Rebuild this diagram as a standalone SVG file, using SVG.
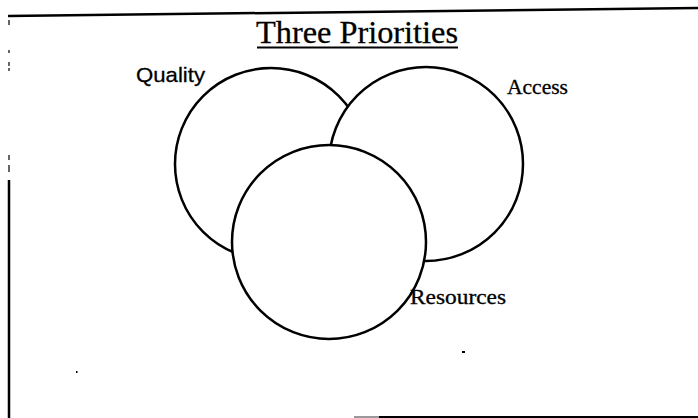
<svg xmlns="http://www.w3.org/2000/svg" width="698" height="418" viewBox="0 0 698 418">
<style>
.c{fill:#fff;stroke:#000;stroke-width:2.5}
.b{stroke:#000;fill:none}
.s{font-family:"Liberation Serif","Times New Roman",serif;fill:#000;stroke:#000;stroke-width:0.3}
.a{font-family:"Liberation Sans",Arial,sans-serif;fill:#000;stroke:#000;stroke-width:0.3}
</style>
<rect width="698" height="418" fill="#fff"/>
<g id="frame">
<path class="b" d="M8 16 L698 8" stroke-width="2.5"/>
<path class="b" d="M9 180 L9 418" stroke-width="2.5"/>
<path class="b" d="M9 20 V25 M9 50 V53 M9 62 V66 M9 68 V71 M9 155 V160 M9 165 V172" stroke-width="1.2"/>
<path d="M354 417 H379" stroke="#999" stroke-width="2"/>
<path class="b" d="M379 417 H698" stroke-width="2.2"/>
<rect x="462" y="351" width="3" height="2" fill="#000"/>
<rect x="76" y="371" width="1.5" height="2" fill="#000"/>
</g>
<g id="title">
<text class="s" x="357" y="43" font-size="32" text-anchor="middle" textLength="202" lengthAdjust="spacingAndGlyphs">Three Priorities</text>
<path class="b" d="M257 47.5 H458" stroke-width="2"/>
</g>
<g id="quality">
<circle class="c" cx="271" cy="164" r="96"/>
<text class="a" x="136" y="82" font-size="21" textLength="69" lengthAdjust="spacingAndGlyphs">Quality</text>
</g>
<g id="access">
<circle class="c" cx="426" cy="164" r="97"/>
<text class="s" x="507" y="94" font-size="20" textLength="61" lengthAdjust="spacingAndGlyphs">Access</text>
</g>
<g id="resources">
<circle class="c" cx="329" cy="242" r="97"/>
<text class="s" x="410" y="304" font-size="20" textLength="96" lengthAdjust="spacingAndGlyphs">Resources</text>
</g>
<g id="connectors"/>
</svg>
